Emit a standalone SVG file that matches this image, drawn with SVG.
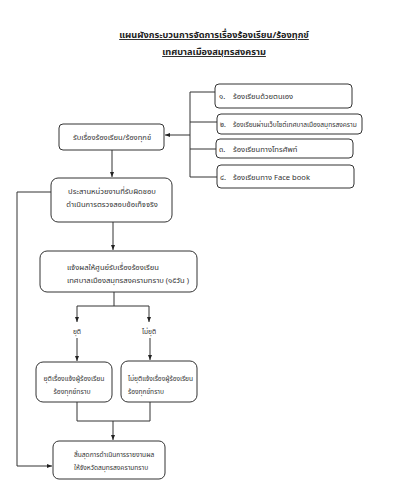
<svg xmlns="http://www.w3.org/2000/svg" width="410" height="500" viewBox="0 0 410 500">
<defs>
<marker id="ah" viewBox="0 0 10 10" refX="10" refY="5" markerWidth="5" markerHeight="5" orient="auto">
<path d="M0,1 L10,5 L0,9 z" fill="#222"/>
</marker>
<style>
.box{fill:#fff;stroke:#333;stroke-width:1}
.ln{fill:none;stroke:#333;stroke-width:1}
.t{font-family:"Noto Sans Thai","Noto Sans","DejaVu Sans",sans-serif;font-size:7.6px;fill:#333}
.s{font-size:6.6px}
.m{font-size:6.8px}
.title{font-family:"Noto Sans Thai","Noto Sans","DejaVu Sans",sans-serif;font-size:9.2px;font-weight:bold;fill:#222;text-decoration:underline}
</style>
</defs>
<rect width="410" height="500" fill="#fff"/>
<g id="title">
<text class="title" x="214" y="38" text-anchor="middle">แผนผังกระบวนการจัดการเรื่องร้องเรียน/ร้องทุกข์</text>
<text class="title" x="214" y="55" text-anchor="middle">เทศบาลเมืองสมุทรสงคราม</text>
</g>
<g id="connectors">
<path class="ln" d="M215,92 H190 V177 H217 M190,122 H217 M190,149 H216"/>
<path class="ln" d="M190,135 H165" marker-end="url(#ah)"/>
<path class="ln" d="M112,150 V177" marker-end="url(#ah)"/>
<path class="ln" d="M113,222 V250" marker-end="url(#ah)"/>
<path class="ln" d="M114,292 V306 M77,306 H149"/>
<path class="ln" d="M77,306 V322" marker-end="url(#ah)"/>
<path class="ln" d="M149,306 V322" marker-end="url(#ah)"/>
<path class="ln" d="M77,338 V361" marker-end="url(#ah)"/>
<path class="ln" d="M150,338 V360" marker-end="url(#ah)"/>
<path class="ln" d="M77,402 V421 H150 V402"/>
<path class="ln" d="M113,421 V440" marker-end="url(#ah)"/>
<path class="ln" d="M51,192 H17 V466 H52" marker-end="url(#ah)"/>
<text class="t s" x="77" y="334" text-anchor="middle">ยุติ</text>
<text class="t s" x="149" y="334" text-anchor="middle">ไม่ยุติ</text>
</g>
<g id="n1"><rect class="box" x="215" y="84" width="137" height="24" rx="4"/><text class="t" x="219" y="98.5">๑.</text><text class="t" x="233" y="98.5">ร้องเรียนด้วยตนเอง</text></g>
<g id="n2"><rect class="box" x="217" y="114" width="145" height="20" rx="4"/><text class="t s" x="220" y="126.5">๒.</text><text class="t s" x="233" y="126.5">ร้องเรียนผ่านเว็บไซต์เทศบาลเมืองสมุทรสงคราม</text></g>
<g id="n3"><rect class="box" x="216" y="139" width="137" height="19" rx="4"/><text class="t" x="219" y="151.5">๓.</text><text class="t" x="233" y="151.5">ร้องเรียนทางโทรศัพท์</text></g>
<g id="n4"><rect class="box" x="217" y="165" width="137" height="23" rx="4"/><text class="t" x="220" y="179.5">๔.</text><text class="t" x="233" y="179.5">ร้องเรียนทาง Face book</text></g>
<g id="receive"><rect class="box" x="59" y="124" width="105" height="26" rx="4"/><text class="t" x="112" y="139.5" text-anchor="middle">รับเรื่องร้องเรียน/ร้องทุกข์</text></g>
<g id="coordinate"><rect class="box" x="51" y="178" width="121" height="44" rx="7"/><text class="t" x="112" y="194" text-anchor="middle">ประสานหน่วยงานที่รับผิดชอบ</text><text class="t" x="112" y="207" text-anchor="middle">ดำเนินการตรวจสอบข้อเท็จจริง</text></g>
<g id="notify"><rect class="box" x="40" y="251" width="157" height="41" rx="7"/><text class="t" x="67" y="270">แจ้งผลให้ศูนย์รับเรื่องร้องเรียน</text><text class="t" x="67" y="283">เทศบาลเมืองสมุทรสงครามทราบ (๑๕วัน )</text></g>
<g id="end-case"><rect class="box" x="36" y="362" width="76" height="40" rx="7"/><text class="t m" x="74" y="381" text-anchor="middle">ยุติเรื่องแจ้งผู้ร้องเรียน</text><text class="t m" x="72" y="394" text-anchor="middle">ร้องทุกข์ทราบ</text></g>
<g id="not-end"><rect class="box" x="121" y="361" width="76" height="41" rx="7"/><text class="t s" x="128" y="380.5">ไม่ยุติแจ้งเรื่องผู้ร้องเรียน</text><text class="t s" x="128" y="393.5">ร้องทุกข์ทราบ</text></g>
<g id="finish"><rect class="box" x="53" y="441" width="112" height="38" rx="6"/><text class="t s" x="74" y="457">สิ้นสุดการดำเนินการรายงานผล</text><text class="t s" x="74" y="469.5">ให้จังหวัดสมุทรสงครามทราบ</text></g>
</svg>
